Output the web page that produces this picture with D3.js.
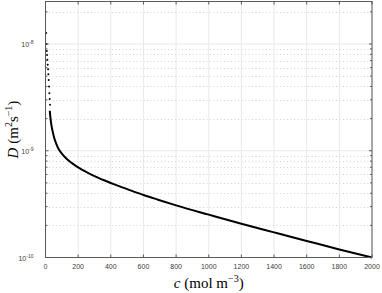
<!DOCTYPE html>
<html>
<head>
<meta charset="utf-8">
<script src="https://cdn.jsdelivr.net/npm/d3@7"></script>
<style>
body { margin: 0; background: #fff; }
svg { display: block; }
</style>
</head>
<body>
<div id="chart"></div>
<script>
// early part of the curve, drawn as separate dots
const conc_start = [0, 2, 4, 6, 8, 10, 12, 14, 16, 18, 20, 22, 24];
const diff_start = [1.27e-8, 1.0e-8, 8.6e-9, 7.9e-9, 7.1e-9, 6.4e-9, 5.8e-9, 5.2e-9, 4.6e-9, 4.0e-9, 3.45e-9, 3.05e-9, 2.7e-9];
// rest of the curve (dense, looks like a solid line)
const conc_line = [26, 30, 36, 44, 54, 66, 83, 100, 120, 138, 160, 190, 220, 260, 300, 363, 430, 516, 600, 689, 800, 1000, 1200, 1400, 1600, 1800, 2000];
const diff_line = [2.37e-9, 2.05e-9, 1.75e-9, 1.51e-9, 1.31e-9, 1.16e-9, 1.02e-9, 9.40e-10, 8.69e-10, 8.18e-10, 7.69e-10, 7.14e-10, 6.70e-10, 6.21e-10, 5.79e-10, 5.26e-10, 4.79e-10, 4.28e-10, 3.85e-10, 3.48e-10, 3.08e-10, 2.52e-10, 2.07e-10, 1.72e-10, 1.43e-10, 1.19e-10, 1.0e-10];
const x_ticks = [0, 200, 400, 600, 800, 1000, 1200, 1400, 1600, 1800, 2000];
const y_ticks = [1e-10, 1e-9, 1e-8];
const y_exps = ["-10", "-9", "-8"];

const ctx = {
    w: 382,
    h: 293,
    left: 45.5,
    right: 372,
    top: 1.5,
    bottom: 257.5
};

function createViz() {
    var svg = d3.select("#chart").append("svg")
        .attr("width", ctx.w).attr("height", ctx.h);

    var x = d3.scaleLinear().domain([0, 2000]).range([ctx.left, ctx.right]);
    var y = d3.scaleLog().domain([1e-10, 2.5e-8]).range([ctx.bottom, ctx.top]);

    // minor y values (2..9 of each decade)
    var minor = [];
    [1e-10, 1e-9, 1e-8].forEach(function(d) {
        for (let k = 2; k <= 9; k++) {
            if (k * d <= 2.5e-8) minor.push(k * d);
        }
    });

    // grid
    svg.append("g").selectAll("line").data(minor).enter().append("line")
        .attr("x1", ctx.left).attr("x2", ctx.right)
        .attr("y1", d => Math.round(y(d)) + 0.5).attr("y2", d => Math.round(y(d)) + 0.5)
        .style("stroke", "#c8c8c8").style("stroke-width", 0.8)
        .style("stroke-dasharray", "1,2.5");
    svg.append("g").selectAll("line").data(x_ticks).enter().append("line")
        .attr("x1", d => x(d)).attr("x2", d => x(d))
        .attr("y1", ctx.top).attr("y2", ctx.bottom)
        .style("stroke", "#e8e8e8").style("stroke-width", 1);
    svg.append("g").selectAll("line").data(y_ticks).enter().append("line")
        .attr("x1", ctx.left).attr("x2", ctx.right)
        .attr("y1", d => y(d)).attr("y2", d => y(d))
        .style("stroke", "#e8e8e8").style("stroke-width", 1);

    // curve
    var line = d3.line()
        .x((d, i) => x(conc_line[i]))
        .y(d => y(d))
        .curve(d3.curveMonotoneX);
    svg.append("path").datum(diff_line)
        .attr("d", line)
        .style("fill", "none").style("stroke", "#000").style("stroke-width", 2);
    svg.append("g").selectAll("circle").data(diff_start).enter().append("circle")
        .attr("cx", (d, i) => x(conc_start[i]) + 0.6)
        .attr("cy", d => y(d))
        .attr("r", 1)
        .style("fill", "#000");

    // box
    svg.append("rect")
        .attr("x", ctx.left).attr("y", ctx.top)
        .attr("width", ctx.right - ctx.left).attr("height", ctx.bottom - ctx.top)
        .style("fill", "none").style("stroke", "#5a5a5a").style("stroke-width", 1);

    // ticks
    var tk = svg.append("g").style("stroke", "#5a5a5a").style("stroke-width", 1);
    x_ticks.forEach(function(t) {
        tk.append("line").attr("x1", x(t)).attr("x2", x(t)).attr("y1", ctx.bottom).attr("y2", ctx.bottom - 3);
        tk.append("line").attr("x1", x(t)).attr("x2", x(t)).attr("y1", ctx.top).attr("y2", ctx.top + 3);
    });
    y_ticks.forEach(function(t) {
        tk.append("line").attr("x1", ctx.left).attr("x2", ctx.left + 3).attr("y1", y(t)).attr("y2", y(t));
        tk.append("line").attr("x1", ctx.right).attr("x2", ctx.right - 3).attr("y1", y(t)).attr("y2", y(t));
    });
    minor.forEach(function(t) {
        tk.append("line").attr("x1", ctx.left).attr("x2", ctx.left + 2).attr("y1", y(t)).attr("y2", y(t));
        tk.append("line").attr("x1", ctx.right).attr("x2", ctx.right - 2).attr("y1", y(t)).attr("y2", y(t));
    });

    // tick labels
    svg.append("g").selectAll("text").data(x_ticks).enter().append("text")
        .attr("x", d => x(d)).attr("y", ctx.bottom + 11)
        .attr("text-anchor", "middle")
        .style("font-family", "'Liberation Sans', Arial, sans-serif")
        .style("font-size", "7px").style("fill", "#3c3c3c")
        .text(d => d);
    var yl = svg.append("g").selectAll("text").data(y_ticks).enter().append("text")
        .attr("x", ctx.left - 12).attr("y", d => y(d) + 3)
        .attr("text-anchor", "end")
        .style("font-family", "'Liberation Sans', Arial, sans-serif")
        .style("font-size", "7px").style("fill", "#3c3c3c");
    yl.append("tspan").text("10");
    yl.append("tspan").attr("dy", -3).style("font-size", "5px").text((d, i) => y_exps[i]);

    // axis labels
    var xlab = svg.append("text")
        .attr("x", (ctx.left + ctx.right) / 2).attr("y", 288)
        .attr("text-anchor", "middle")
        .style("font-family", "'Liberation Serif', 'DejaVu Serif', serif")
        .style("font-size", "15px").style("fill", "#000");
    xlab.append("tspan").style("font-style", "italic").text("c");
    xlab.append("tspan").text(" (mol m");
    xlab.append("tspan").attr("dy", -6).style("font-size", "10px").text("−3");
    xlab.append("tspan").attr("dy", 6).text(")");

    var ylab = svg.append("text")
        .attr("transform", "translate(18," + ((ctx.top + ctx.bottom) / 2) + ")rotate(-90)")
        .attr("text-anchor", "middle")
        .style("font-family", "'Liberation Serif', 'DejaVu Serif', serif")
        .style("font-size", "15px").style("fill", "#000");
    ylab.append("tspan").style("font-style", "italic").text("D");
    ylab.append("tspan").text(" (m");
    ylab.append("tspan").attr("dy", -6).style("font-size", "10px").text("2");
    ylab.append("tspan").attr("dy", 6).text("s");
    ylab.append("tspan").attr("dy", -6).style("font-size", "10px").text("−1");
    ylab.append("tspan").attr("dy", 6).text(")");
}
createViz();
</script>
</body>
</html>
